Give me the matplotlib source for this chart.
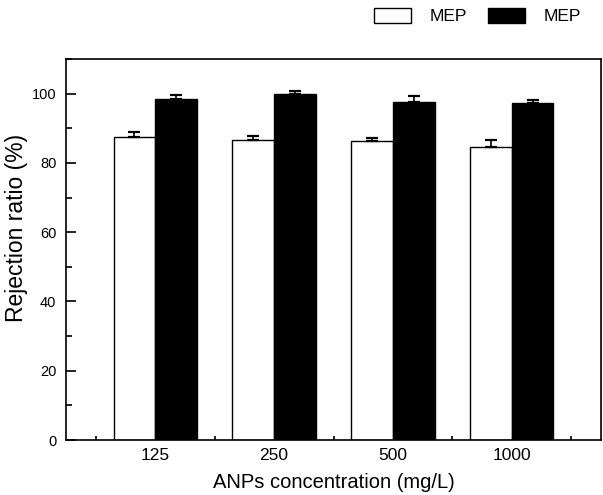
import matplotlib
matplotlib.use("Agg")
import matplotlib.pyplot as plt
from matplotlib.patches import Patch
from matplotlib.ticker import MultipleLocator, FixedLocator
import numpy as np

plt.rcParams['font.family'] = ['Liberation Sans', 'DejaVu Sans']

categories = ["125", "250", "500", "1000"]
series_labels = ["MEP", "MEP"]
white_vals = [87.6, 86.7, 86.2, 84.6]
white_err = [1.2, 1.2, 1.1, 2.0]
black_vals = [98.4, 99.8, 97.6, 97.4]
black_err = [1.2, 1.0, 1.7, 0.7]

fig = plt.figure(figsize=(6.03, 4.95), dpi=100)
ax = fig.add_axes([0.1095, 0.1111, 0.8872, 0.7697])

x = np.arange(1, len(categories) + 1)
w = 0.35
ax.bar(x - w / 2, white_vals, w, color="white", edgecolor="black", linewidth=1.0, zorder=2)
ax.bar(x + w / 2, black_vals, w, color="black", edgecolor="black", linewidth=1.0, zorder=2)
ax.errorbar(x - w / 2, white_vals, yerr=[np.zeros(4), white_err], fmt="none",
            ecolor="black", elinewidth=1.2, capsize=4.5, capthick=1.6, zorder=3)
ax.errorbar(x + w / 2, black_vals, yerr=[np.zeros(4), black_err], fmt="none",
            ecolor="black", elinewidth=1.2, capsize=4.5, capthick=1.6, zorder=3)

ax.set_xlim(0.25, 4.75)
ax.set_ylim(0, 110)

# category labels without tick marks, small inward ticks between groups
ax.set_xticks(x)
ax.set_xticklabels(categories, fontsize=12.5)
ax.tick_params(axis="x", which="major", length=0, pad=6)
ax.xaxis.set_minor_locator(FixedLocator(np.arange(0.5, 4.6, 1.0)))
ax.tick_params(axis="x", which="minor", direction="in", length=3, width=1.2, top=False)

ax.yaxis.set_major_locator(MultipleLocator(20))
ax.yaxis.set_minor_locator(MultipleLocator(10))
ax.tick_params(axis="y", which="major", direction="in", length=7, width=1.2, labelsize=10.5, pad=7)
ax.tick_params(axis="y", which="minor", direction="in", length=4, width=1.2)

for s in ax.spines.values():
    s.set_linewidth(1.2)

ax.set_xlabel("ANPs concentration (mg/L)", fontsize=14.5, labelpad=7)
ax.set_ylabel("Rejection ratio (%)", fontsize=16.5, va="center")
ax.yaxis.set_label_coords(-0.093, 0.556)

handles = [Patch(facecolor="white", edgecolor="black", linewidth=1.0),
           Patch(facecolor="black", edgecolor="black", linewidth=1.0)]
fig.legend(handles, series_labels, loc="upper left", bbox_to_anchor=(0.6053, 1.002),
           ncol=2, frameon=False, fontsize=12.5, handlelength=2.13, handleheight=0.98,
           handletextpad=1.1, columnspacing=1.2, borderpad=0)

fig.savefig("out.png", dpi=100)
